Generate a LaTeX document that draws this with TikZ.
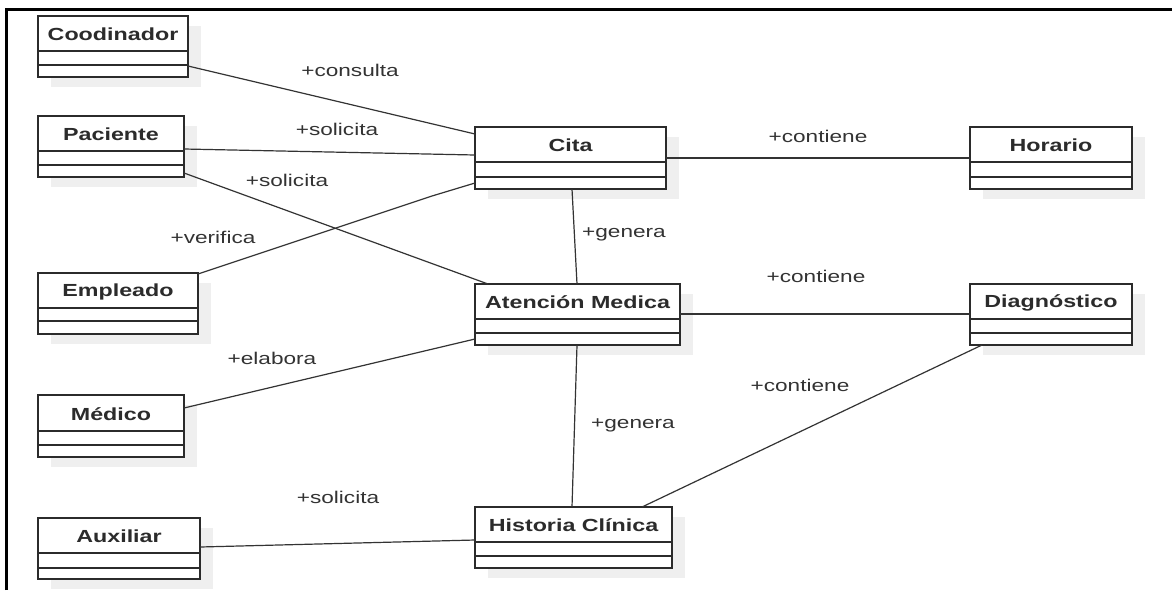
\documentclass[tikz,border=0pt]{standalone}
\usepackage{fontspec}
\setmainfont{Liberation Sans}[FakeStretch=1.33]
\usetikzlibrary{calc}
\definecolor{inkcol}{HTML}{2B2B2B}
\definecolor{linecol}{HTML}{333333}
\definecolor{shadowcol}{HTML}{EFEFEF}
\tikzset{
  classbox/.style={draw=inkcol, line width=1.4pt, fill=white, inner sep=0pt, outer sep=0pt},
  classrule/.style={draw=inkcol, line width=1.2pt},
  classname/.style={text=inkcol, font=\fontsize{17.5}{20}\selectfont\bfseries, inner sep=0pt},
  assoc/.style={draw=linecol, line width=1.2pt},
  rolelabel/.style={text=linecol, font=\fontsize{17}{20}\selectfont, inner sep=0pt},
  frameline/.style={draw=black, line width=2.2pt}
}
% UML class: id, x1, y1, x2, y2, first rule, second rule, name
\newcommand{\umlclass}[8]{%
  \pgfmathsetmacro\clw{#4-#2}%
  \pgfmathsetmacro\clh{#5-#3}%
  \fill[shadowcol] (#2+13,#3+10) rectangle (#4+13,#5+10);
  \node[classbox, anchor=north west, minimum width=\clw pt, minimum height=\clh pt] (#1) at (#2,#3) {};
  \draw[classrule] (#2,#6) -- (#4,#6);
  \draw[classrule] (#2,#7) -- (#4,#7);
  \node[classname] (#1-name) at ({(#2+#4)/2},{(#3+#6)/2+1}) {#8};
}
\begin{document}
\begin{tikzpicture}[x=1pt,y=-1pt]
\useasboundingbox (0,0) rectangle (1172,590);
\fill[white] (0,0) rectangle (1172,590);
% frame
\draw[frameline] (6.5,590) -- (6.5,9.5) -- (1172,9.5);

% classes
\umlclass{coord}{38}{16}{188}{77}{51}{65}{Coodinador}
\umlclass{pac}{38}{116}{184}{177}{151}{165}{Paciente}
\umlclass{emp}{38}{273}{198}{334}{308}{321}{Empleado}
\umlclass{med}{38}{395}{184}{457}{431}{445}{Médico}
\umlclass{aux}{38}{518}{200}{579}{553}{568}{Auxiliar}
\umlclass{cita}{475}{127}{666}{189}{162}{177}{Cita}
\umlclass{aten}{475}{284}{680}{345}{319}{333}{Atención Medica}
\umlclass{hist}{475}{507}{672}{568}{542}{556}{Historia Clínica}
\umlclass{hor}{970}{127}{1132}{189}{162}{177}{Horario}
\umlclass{diag}{970}{284}{1132}{345}{319}{333}{Diagnóstico}

% associations
\draw[assoc] ($(coord.north east)+(0,50)$) -- ($(cita.north west)+(0,7)$);
\draw[assoc] ($(pac.north east)+(0,33)$) -- ($(cita.north west)+(0,28)$);
\draw[assoc] ($(pac.north east)+(0,57)$) -- ($(aten.north west)+(13,0)$);
\coordinate (vbend) at (432,196);
\draw[assoc] ($(emp.north east)+(0,1)$) -- (vbend) -- ($(cita.north west)+(0,56)$);
\draw[assoc] ($(med.north east)+(0,13)$) -- ($(aten.north west)+(0,55)$);
\draw[assoc] ($(cita.south west)+(97,0)$) -- ($(aten.north west)+(102,0)$);
\draw[assoc] ($(aten.south west)+(102,0)$) -- ($(hist.north west)+(97,0)$);
\draw[assoc] ($(cita.north east)+(0,31)$) -- ($(hor.north west)+(0,31)$);
\draw[assoc] ($(aten.north east)+(0,30)$) -- ($(diag.north west)+(0,30)$);
\draw[assoc] ($(diag.south west)+(12,0)$) -- ($(hist.north west)+(167,0)$);
\draw[assoc] ($(aux.north east)+(0,29)$) -- ($(hist.north west)+(0,33)$);

% role labels
\node[rolelabel] (l-consulta) at (350,70) {+consulta};
\node[rolelabel] (l-solicita1) at (337,129) {+solicita};
\node[rolelabel] (l-solicita2) at (287,180) {+solicita};
\node[rolelabel] (l-verifica) at (213,237) {+verifica};
\node[rolelabel] (l-genera1) at (624,234) {+genera};
\node[rolelabel] (l-contiene1) at (818,136) {+contiene};
\node[rolelabel] (l-contiene2) at (816,276) {+contiene};
\node[rolelabel] (l-elabora) at (272,358) {+elabora};
\node[rolelabel] (l-contiene3) at (800,385) {+contiene};
\node[rolelabel] (l-genera2) at (633,425) {+genera};
\node[rolelabel] (l-solicita3) at (338,497) {+solicita};
\end{tikzpicture}
\end{document}
